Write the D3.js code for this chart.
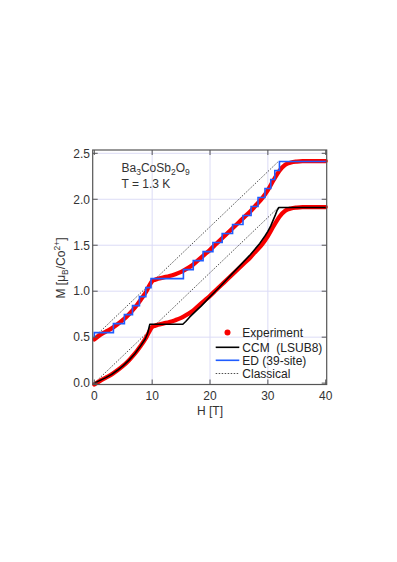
<!DOCTYPE html>
<html><head><meta charset="utf-8">
<script src="https://cdn.jsdelivr.net/npm/d3@7"></script>
<style>
html,body{margin:0;padding:0;background:#fff;}
svg{display:block;font-family:"Liberation Sans",Arial,sans-serif;}
</style></head>
<body><svg id="c" width="397" height="562"></svg>
<script>
// ---- data ----
const xTicks = [0, 10, 20, 30, 40];
const xTickLabels = ["0", "10", "20", "30", "40"];
const yTicks = [0, 0.5, 1.0, 1.5, 2.0, 2.5];
const yTickLabels = ["0.0", "0.5", "1.0", "1.5", "2.0", "2.5"];

// Experiment (lower curve and upper curve shifted by 0.5)
const expH = [0,1,2,3,4,5,6,7,8,8.5,9,9.5,10,10.5,11,12,13,14,15,16,17,18,19,20,21,22,23,24,25,26,27,28,29,30,31,32,33,34,35,36,38,40];
const expLow = [-0.015,0.025,0.06,0.095,0.14,0.19,0.25,0.32,0.405,0.45,0.5,0.56,0.61,0.625,0.635,0.65,0.665,0.685,0.71,0.745,0.785,0.84,0.895,0.95,1.01,1.07,1.13,1.19,1.25,1.31,1.37,1.44,1.51,1.6,1.71,1.81,1.875,1.9,1.91,1.915,1.915,1.915];
const expUp = [0.475,0.525,0.56,0.595,0.64,0.69,0.75,0.82,0.905,0.95,1.0,1.06,1.11,1.125,1.135,1.15,1.165,1.185,1.21,1.245,1.285,1.34,1.395,1.45,1.51,1.57,1.63,1.69,1.75,1.81,1.87,1.94,2.01,2.1,2.21,2.31,2.375,2.4,2.41,2.415,2.415,2.415];

// CCM (LSUB8), lower curve
const ccmH = [0,1,2,3,4,5,6,7,8,8.8,9.2,9.6,15.3,15.8,16.5,17.4,18.5,20,21.5,23,24.5,25.5,27,28.6,29.5,30,30.5,30.9,31.3,31.6,31.9,40];
const ccmM = [0,0.03,0.06,0.095,0.14,0.19,0.25,0.32,0.405,0.48,0.54,0.64,0.64,0.67,0.72,0.775,0.84,0.94,1.035,1.135,1.235,1.3,1.4,1.52,1.6,1.65,1.71,1.77,1.83,1.88,1.91,1.91];

// ED (39-site), upper curve, step positions and levels
const edH = [0,0,3.3,5.2,6.6,7.8,8.9,9.8,15.4,17.1,18.8,20.5,22.1,23.9,25.7,27.1,28.3,29.5,30.5,31.2,32.0,40];
const edM = [0.5,0.549,0.647,0.745,0.843,0.941,1.039,1.137,1.235,1.333,1.431,1.529,1.627,1.725,1.823,1.921,2.019,2.117,2.215,2.313,2.411,2.411];

// Classical
const clH = [0, 31.8, 40];
const clLow = [0, 1.91, 1.91];
const clUp = [0.5, 2.41, 2.41];

const legendLabels = ["Experiment", "CCM  (LSUB8)", "ED (39-site)", "Classical"];

// ---- drawing ----
const svg = d3.select("#c");
const x = d3.scaleLinear().domain([-0.28, 40.17]).range([92.7, 326.7]);
const y = d3.scaleLinear().domain([-0.015, 2.536]).range([384.5, 150]);
const [x0, x1] = x.range();
const [yb, yt] = y.range();

// grid
const g = svg.append("g");
g.selectAll(".gx").data(xTicks.filter(d => d > 0 && d < 40)).enter().append("line")
  .attr("x1", d => x(d)).attr("x2", d => x(d)).attr("y1", yt).attr("y2", yb)
  .attr("stroke", "#dcdcf6").attr("stroke-width", 1);
g.selectAll(".gy").data(yTicks.filter(d => d > 0)).enter().append("line")
  .attr("x1", x0).attr("x2", x1).attr("y1", d => y(d)).attr("y2", d => y(d))
  .attr("stroke", "#dcdcf6").attr("stroke-width", 1);

// classical dotted
const line = d3.line().x(d => x(d[0])).y(d => y(d[1]));
[clLow, clUp].forEach(arr => {
  svg.append("path").attr("d", line(clH.map((h, i) => [h, arr[i]])))
    .attr("fill", "none").attr("stroke", "#222").attr("stroke-width", 0.8)
    .attr("stroke-dasharray", "1.5,1.5");
});

// experiment (thick red dotted band)
const smooth = d3.line().x(d => x(d[0])).y(d => y(d[1])).curve(d3.curveMonotoneX);
[expLow, expUp].forEach(arr => {
  svg.append("path").attr("d", smooth(expH.map((h, i) => [h, arr[i]])))
    .attr("fill", "none").attr("stroke", "#f80000").attr("stroke-width", 4.3)
    .attr("stroke-linecap", "round").attr("stroke-linejoin", "round");
});

// CCM
svg.append("path").attr("d", d3.line().x(d => x(d[0])).y(d => y(d[1])).curve(d3.curveLinear)(ccmH.map((h, i) => [h, ccmM[i]])))
  .attr("fill", "none").attr("stroke", "#000").attr("stroke-width", 1.6).attr("stroke-linejoin", "round");

// ED steps
svg.append("path").attr("d", d3.line().x(d => x(d[0])).y(d => y(d[1])).curve(d3.curveStepAfter)(edH.map((h, i) => [h, edM[i]])))
  .attr("fill", "none").attr("stroke", "#1f5cff").attr("stroke-width", 1.6);

// frame
svg.append("rect").attr("x", x0).attr("y", yt).attr("width", x1 - x0).attr("height", yb - yt)
  .attr("fill", "none").attr("stroke", "#555").attr("stroke-width", 1.2);

// ticks (inside, all four sides)
const tl = 5;
xTicks.forEach(t => {
  svg.append("line").attr("x1", x(t)).attr("x2", x(t)).attr("y1", yb).attr("y2", yb - tl).attr("stroke", "#555");
  svg.append("line").attr("x1", x(t)).attr("x2", x(t)).attr("y1", yt).attr("y2", yt + tl).attr("stroke", "#555");
});
yTicks.forEach(t => {
  svg.append("line").attr("x1", x0).attr("x2", x0 + tl).attr("y1", y(t)).attr("y2", y(t)).attr("stroke", "#555");
  svg.append("line").attr("x1", x1).attr("x2", x1 - tl).attr("y1", y(t)).attr("y2", y(t)).attr("stroke", "#555");
});

// tick labels
svg.selectAll(".xl").data(xTicks).enter().append("text")
  .attr("x", d => x(d)).attr("y", 400).attr("text-anchor", "middle")
  .attr("font-size", 12).attr("fill", "#333").text((d, i) => xTickLabels[i]);
svg.selectAll(".yl").data(yTicks).enter().append("text")
  .attr("x", 90).attr("y", d => y(d) + 4.3).attr("text-anchor", "end")
  .attr("font-size", 12).attr("fill", "#333").text((d, i) => yTickLabels[i]);

// axis titles
svg.append("text").attr("x", 210).attr("y", 415).attr("text-anchor", "middle")
  .attr("font-size", 12).attr("fill", "#333").text("H [T]");
const yt_ = svg.append("text").attr("transform", "translate(65,268) rotate(-90)")
  .attr("text-anchor", "middle").attr("font-size", 12).attr("fill", "#333");
yt_.append("tspan").text("M [μ");
yt_.append("tspan").attr("font-size", 8.5).attr("dy", 3).text("B");
yt_.append("tspan").attr("dy", -3).text("/Co");
yt_.append("tspan").attr("font-size", 8.5).attr("dy", -5).text("2+");
yt_.append("tspan").attr("dy", 5).text("]");

// annotation
const f = svg.append("text").attr("x", 121.5).attr("y", 171.5).attr("font-size", 12).attr("fill", "#333");
[["Ba",0],["3",1],["CoSb",0],["2",1],["O",0],["9",1]].forEach(([s, sub], i, a) => {
  const prev = i > 0 ? a[i-1][1] : 0;
  const dy = (sub ? 3 : 0) - (prev ? 3 : 0);
  f.append("tspan").attr("font-size", sub ? 8.5 : 12).attr("dy", dy).text(s);
});
svg.append("text").attr("x", 121.5).attr("y", 188).attr("font-size", 12).attr("fill", "#333").text("T = 1.3 K");

// legend
const lx0 = 215.7, lx1 = 239.3, tx = 242.3;
const ly = [332.5, 347.3, 360.3, 373.5];
svg.append("circle").attr("cx", (lx0 + lx1) / 2).attr("cy", ly[0]).attr("r", 3).attr("fill", "#f80000");
svg.append("line").attr("x1", lx0).attr("x2", lx1).attr("y1", ly[1]).attr("y2", ly[1]).attr("stroke", "#000").attr("stroke-width", 1.6);
svg.append("line").attr("x1", lx0).attr("x2", lx1).attr("y1", ly[2]).attr("y2", ly[2]).attr("stroke", "#1f5cff").attr("stroke-width", 1.6);
svg.append("line").attr("x1", lx0).attr("x2", lx1).attr("y1", ly[3]).attr("y2", ly[3]).attr("stroke", "#222").attr("stroke-width", 0.8).attr("stroke-dasharray", "1.5,1.5");
legendLabels.forEach((s, i) => {
  svg.append("text").attr("x", tx).attr("y", ly[i] + 4.3).attr("font-size", 12).attr("fill", "#222")
    .attr("xml:space", "preserve").style("white-space", "pre").text(s);
});
</script></body></html>
